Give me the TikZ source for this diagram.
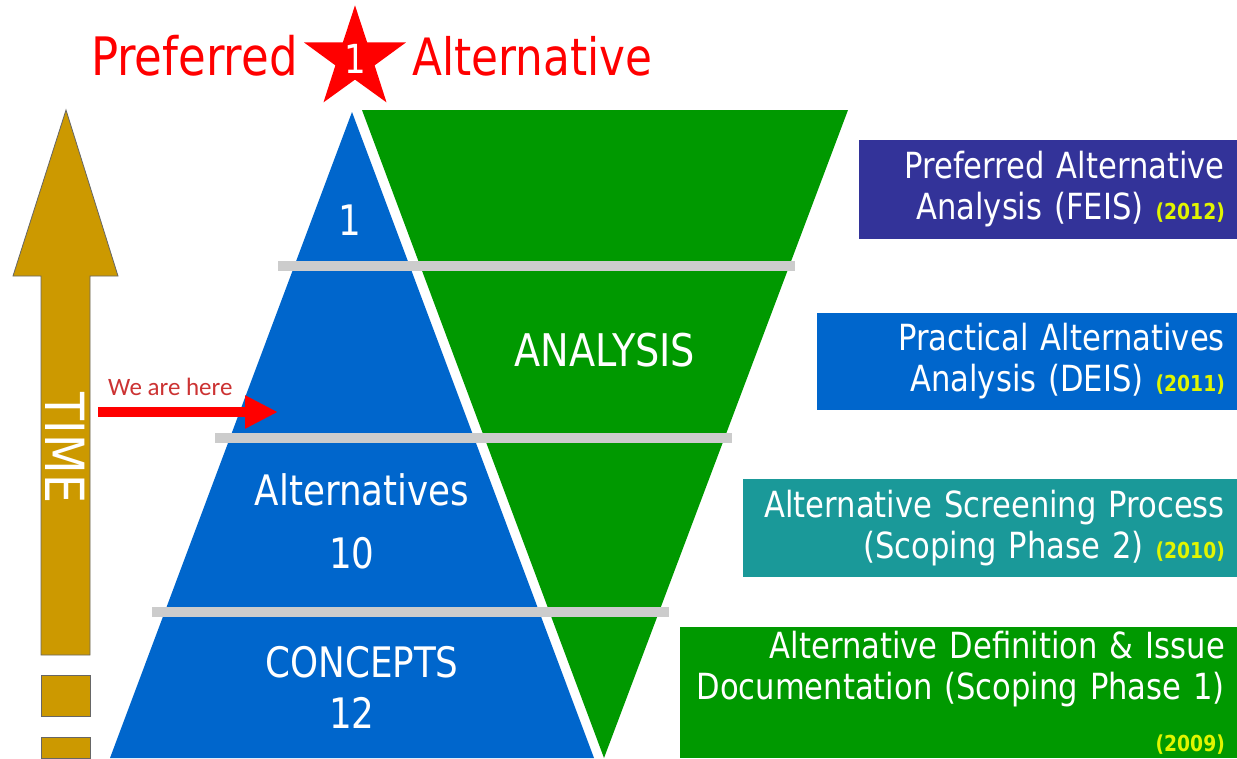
\documentclass[tikz,border=0pt]{standalone}
\usepackage{fontspec}
\setmainfont[FakeStretch=0.85]{DejaVu Sans}
\newfontfamily\herefont{Carlito}
\usetikzlibrary{shapes.geometric,arrows.meta}

\definecolor{pyrblue}{RGB}{0,102,204}
\definecolor{pyrgreen}{RGB}{0,153,0}
\definecolor{timegold}{RGB}{204,153,0}
\definecolor{bargray}{RGB}{204,204,204}
\definecolor{feisblue}{RGB}{51,51,153}
\definecolor{screenteal}{RGB}{26,153,153}
\definecolor{yearyellow}{RGB}{225,245,0}
\definecolor{herered}{RGB}{204,51,51}

\tikzset{
  phasebox/.style={anchor=east, align=right, text=white, inner xsep=12pt,
    inner ysep=0pt, font=\fontsize{36}{41}\selectfont},
  pyrtext/.style={text=white, inner sep=0pt, font=\fontsize{42}{46}\selectfont},
  timebar/.style={fill=timegold, draw=black!60, line width=0.8pt},
}
\newcommand{\phaseyear}[1]{{\color{yearyellow}\fontsize{22}{24}\bfseries #1}}

\begin{document}
\begin{tikzpicture}[x=1pt,y=-1pt]
  \useasboundingbox (0,0) rectangle (1237,758);
  \fill[white] (0,0) rectangle (1237,758);

  % time arrow
  \filldraw[timebar] (66,110) -- (118,276) -- (90,276) -- (90,655)
    -- (41,655) -- (41,276) -- (13,276) -- cycle;
  \filldraw[timebar] (41,675) rectangle (90,716);
  \filldraw[timebar] (41,737) rectangle (90,758);
  \node[rotate=-90, text=white, inner sep=0pt,
    font=\fontsize{54}{58}\selectfont] (time) at (65,448) {TIME};

  % pyramid and funnel
  \fill[pyrblue] (352,112) -- (594,758) -- (110,758) -- cycle;
  \fill[pyrgreen] (362,110) -- (848,110) -- (604,758) -- cycle;
  \foreach \y/\x in {266/278, 438/215, 612/152}
    \fill[bargray] (\x,{\y-5}) rectangle +(517,10);

  \node[pyrtext] (one) at (350,220) {1};
  \node[pyrtext, font=\fontsize{45}{50}\selectfont] (analysis) at (605,350) {ANALYSIS};
  \node[pyrtext] (alts) at (362,490) {Alternatives};
  \node[pyrtext] (ten) at (352,553) {10};
  \node[pyrtext] (concepts) at (362,662) {CONCEPTS};
  \node[pyrtext] (twelve) at (352,713) {12};

  % top title
  \node[star, star points=5, star point ratio=2.6, fill=red, minimum size=106pt,
    inner sep=0pt, text=white, font=\fontsize{40}{44}\selectfont] (star) at (355,59) {1};
  \node[anchor=base east, inner sep=0pt, text=red,
    font=\fontsize{53}{58}\selectfont] (pref) at (298,75) {Preferred};
  \node[anchor=base west, inner sep=0pt, text=red,
    font=\fontsize{51.5}{56}\selectfont] (alt) at (412,75) {Alternative};

  % we are here
  \node[anchor=base west, inner sep=0pt, text=herered,
    font=\herefont\fontsize{25}{28}\selectfont] (here) at (108,395) {We are here};
  \coordinate (herefrom) at (98,412);
  \coordinate (hereto) at (278,412);
  \draw[red, line width=10pt, -{Triangle[length=33pt,width=31pt]}] (herefrom) -- (hereto);

  % phases
  \node[phasebox, fill=feisblue, text width=354pt, minimum height=99pt]
    (feis) at (1237,189.5) {Preferred Alternative\\Analysis (FEIS) \phaseyear{(2012)}};
  \node[phasebox, fill=pyrblue, text width=396pt, minimum height=97pt]
    (deis) at (1237,361.5) {Practical Alternatives\\Analysis (DEIS) \phaseyear{(2011)}};
  \node[phasebox, fill=screenteal, text width=470pt, minimum height=98pt]
    (screen) at (1237,528) {Alternative Screening Process\\(Scoping Phase 2) \phaseyear{(2010)}};
  \node[phasebox, fill=pyrgreen, text width=533pt, minimum height=131pt]
    (define) at (1237,692.5) {Alternative Definition \& Issue\\Documentation (Scoping Phase 1)\\[11pt]\phaseyear{(2009)}};
\end{tikzpicture}
\end{document}
